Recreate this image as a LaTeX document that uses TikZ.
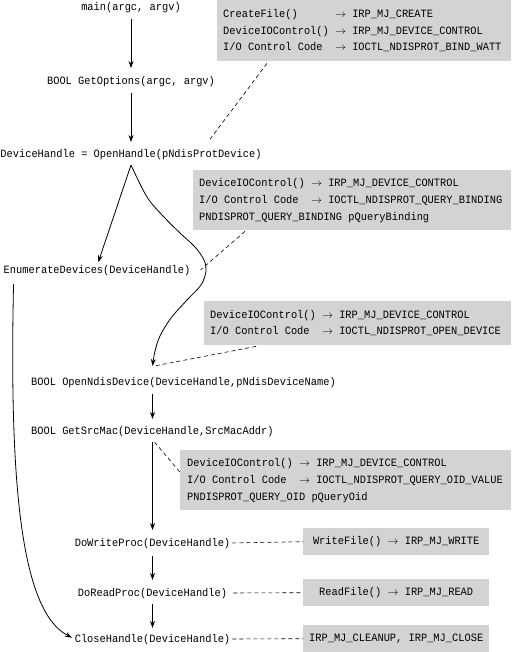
\documentclass[tikz,border=0pt]{standalone}
\usepackage{fontspec}
\setmonofont[FakeStretch=0.925]{Liberation Mono}
\usetikzlibrary{arrows.meta}
\definecolor{boxgray}{RGB}{211,211,211}
\newcommand{\codefont}{\ttfamily\fontsize{11.2}{16.7}\selectfont}
\newcommand{\toarr}{\ensuremath{\rightarrow}}
\newcommand{\msp}{\hphantom{x}}
\begin{document}
\begin{tikzpicture}[x=1pt, y=-1pt,
  code/.style={font=\codefont, inner sep=0pt, text height=7.7pt, text depth=0pt},
  infobox/.style={fill=boxgray, font=\codefont, anchor=north west, inner ysep=0pt, align=left},
  smallbox/.style={fill=boxgray, font=\codefont, anchor=north west, inner sep=0pt, minimum width=186pt, minimum height=27pt},
  flow/.style={-{Stealth[length=7pt,width=5pt]}, line width=0.8pt},
  lead/.style={dash pattern=on 4pt off 3pt, line width=0.6pt}
]
\useasboundingbox (0,0) rectangle (511,652);

% info boxes
\node[infobox, text width=282pt, inner xsep=6pt, minimum height=61pt] (b1) at (217,0) {%
\begin{tabular}{@{}l@{\msp\toarr\msp}l@{}}
CreateFile() & IRP\_MJ\_CREATE\\
DeviceIOControl() & IRP\_MJ\_DEVICE\_CONTROL\\
I/O\msp Control\msp Code & IOCTL\_NDISPROT\_BIND\_WATT
\end{tabular}};
\node[infobox, text width=306pt, inner xsep=6pt, minimum height=60pt] (b2) at (193,170) {%
\begin{tabular}{@{}l@{\msp\toarr\msp}l@{}}
DeviceIOControl() & IRP\_MJ\_DEVICE\_CONTROL\\
I/O\msp Control\msp Code & IOCTL\_NDISPROT\_QUERY\_BINDING\\
\multicolumn{2}{@{}l@{}}{PNDISPROT\_QUERY\_BINDING\msp pQueryBinding}
\end{tabular}};
\node[infobox, text width=295pt, inner xsep=6pt, minimum height=44pt] (b3) at (204,301) {%
\begin{tabular}{@{}l@{\msp\toarr\msp}l@{}}
DeviceIOControl() & IRP\_MJ\_DEVICE\_CONTROL\\
I/O\msp Control\msp Code & IOCTL\_NDISPROT\_OPEN\_DEVICE
\end{tabular}};
\node[infobox, text width=317pt, inner xsep=7pt, minimum height=60pt] (b4) at (180,450) {%
\begin{tabular}{@{}l@{\msp\toarr\msp}l@{}}
DeviceIOControl() & IRP\_MJ\_DEVICE\_CONTROL\\
I/O\msp Control\msp Code & IOCTL\_NDISPROT\_QUERY\_OID\_VALUE\\
\multicolumn{2}{@{}l@{}}{PNDISPROT\_QUERY\_OID\msp pQueryOid}
\end{tabular}};
\node[smallbox] (b5) at (303,528) {WriteFile()\msp\toarr\msp IRP\_MJ\_WRITE};
\node[smallbox] (b6) at (303,579) {ReadFile()\msp\toarr\msp IRP\_MJ\_READ};
\node[smallbox] (b7) at (303,625) {IRP\_MJ\_CLEANUP,\msp IRP\_MJ\_CLOSE};

% code nodes
\node[code] (main) at (131,7) {main(argc,\msp argv)};
\node[code] (opt) at (131,81) {BOOL\msp GetOptions(argc,\msp argv)};
\node[code] (oh) at (131,154) {DeviceHandle\msp=\msp OpenHandle(pNdisProtDevice)};
\node[code] (enum) at (97,270) {EnumerateDevices(DeviceHandle)};
\node[code, anchor=west] (ond) at (31,382) {BOOL\msp OpenNdisDevice(DeviceHandle,pNdisDeviceName)};
\node[code, anchor=west] (gsm) at (31,431) {BOOL\msp GetSrcMac(DeviceHandle,SrcMacAddr)};
\node[code] (dw) at (152.5,543) {DoWriteProc(DeviceHandle)};
\node[code] (dr) at (152.5,593) {DoReadProc(DeviceHandle)};
\node[code] (ch) at (152.5,639) {CloseHandle(DeviceHandle)};

% helper coordinates
\coordinate (fork) at ([yshift=-7pt]oh.south);
\coordinate (ondtop) at (ond.north -| dw.north);
\coordinate (ondin) at ([yshift=12pt]ondtop);
\coordinate (ondbot) at (ond.south -| dw.south);
\coordinate (gsmtop) at (gsm.north -| dw.north);
\coordinate (gsmbot) at (gsm.south -| dw.south);
\coordinate (gsmout) at ([yshift=-7pt]gsmbot);
\coordinate (enumout) at ([shift={(10pt,-10pt)}]enum.south west);

% flow arrows
\draw[flow, shorten <=8pt, shorten >=9pt] (main.south) -- (opt.north);
\draw[flow, shorten <=8pt, shorten >=8pt] (opt.south) -- (oh.north);
\draw[flow, shorten >=4pt] (fork) -- (enum.north);
\draw[flow] plot[smooth, tension=0.55] coordinates {(fork) (147,197) (163,216) (180,233) (195,247) (204,260) (206,271) (201,285) (187,300) (171,318) (160,336) (155,351) (ondin)};
\draw[flow, shorten <=8pt, shorten >=8pt] (ondbot) -- (gsmtop);
\draw[flow, shorten >=9pt] (gsmout) -- (dw.north);
\draw[flow, shorten <=9pt, shorten >=9pt] (dw.south) -- (dr.north);
\draw[flow, shorten <=7pt, shorten >=7pt] (dr.south) -- (ch.north);
\draw[flow, shorten >=3pt] (enumout) .. controls (9,490) and (22,612) .. (ch.west);

% leader lines
\draw[lead] ([shift={(50pt,-2pt)}]b1.south west) -- ([shift={(77pt,8pt)}]oh.north);
\draw[lead] ([shift={(52pt,-1pt)}]b2.south west) -- ([xshift=10pt]enum.east);
\draw[lead] ([shift={(52pt,-1pt)}]b3.south west) -- ([xshift=2pt]ondin);
\draw[lead] ([xshift=2pt]gsmout) -- ([yshift=8pt]b4.west);
\draw[lead, shorten <=2pt] (dw.east) -- (b5.west);
\draw[lead, shorten <=6pt] (dr.east) -- (b6.west);
\draw[lead, shorten <=2pt] (ch.east) -- (b7.west);
\end{tikzpicture}
\end{document}
